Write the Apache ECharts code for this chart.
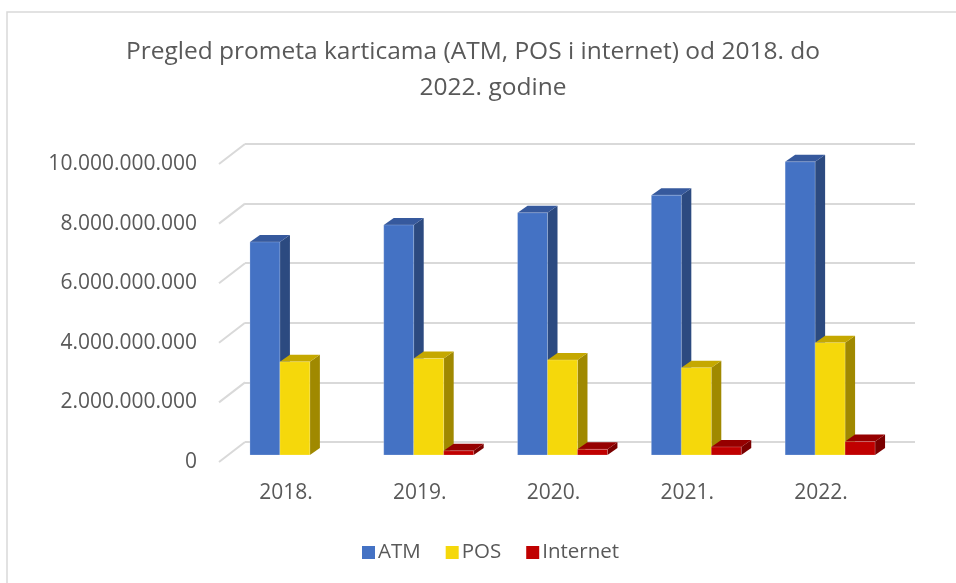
<!DOCTYPE html>
<html>
<head>
<meta charset="utf-8">
<script src="https://cdn.jsdelivr.net/npm/echarts@6/dist/echarts.min.js"></script>
<style>
  html, body { margin: 0; padding: 0; background: #fff; }
  #chart { width: 956px; height: 583px; }
</style>
</head>
<body>
<div id="chart"></div>
<script>
// podaci
var godine = ['2018.', '2019.', '2020.', '2021.', '2022.'];
var atm = [7150000000, 7720000000, 8130000000, 8720000000, 9840000000];
var pos = [3130000000, 3240000000, 3190000000, 2930000000, 3770000000];
var internet = [0, 140000000, 190000000, 270000000, 450000000];
var yTicks = [0, 2000000000, 4000000000, 6000000000, 8000000000, 10000000000];

(function () {

    var chart = echarts.init(document.getElementById('chart'));

    var font = '"Open Sans", "Noto Sans", sans-serif';
    var txt = '#595959';

    // boje: lice, vrh, bok
    var boje = [
        ['#4472C4', '#36599D', '#2C4A80'],
        ['#F5D80B', '#C5A800', '#A08900'],
        ['#C00000', '#960000', '#7A0000']
    ];

    function tocke(arr) {
        return arr.map(function (v, i) { return [i, v]; });
    }

    // 3D stupac: prednje lice + vrh + bok
    function stupac(idx) {
        return function (params, api) {
            var cat = api.value(0), val = api.value(1);
            if (!val) return;
            var band = api.size([1, 0])[0];
            var w = band * 0.224;
            var dx = 10, dy = -7;
            var base = api.coord([cat, 0]);
            var top = api.coord([cat, val]);
            var x0 = base[0] - 1.5 * w + idx * w;
            var x1 = x0 + w;
            var yb = base[1], yt = top[1];
            var c = boje[idx];
            return {
                type: 'group',
                children: [
                    { type: 'polygon', shape: { points: [[x1, yb], [x1 + dx, yb + dy], [x1 + dx, yt + dy], [x1, yt]] }, style: { fill: c[2] } },
                    { type: 'polygon', shape: { points: [[x0, yt], [x0 + dx, yt + dy], [x1 + dx, yt + dy], [x1, yt]] }, style: { fill: c[1] } },
                    { type: 'rect', shape: { x: x0, y: yt, width: w, height: yb - yt }, style: { fill: c[0], stroke: 'rgba(255,255,255,0.35)', lineWidth: 0.6 } }
                ]
            };
        };
    }

    // bocni zid: kose linije od prednjeg ruba do straznjeg zida
    function kosine(params, api) {
        var p = api.coord([0, api.value(1)]);
        var x = params.coordSys.x;
        return {
            type: 'line',
            shape: { x1: x, y1: p[1], x2: x + 26, y2: p[1] - 20 },
            style: { stroke: '#d9d9d9', lineWidth: 2 }
        };
    }

    var yBase = { type: 'value', min: 0, max: 10000000000, interval: 2000000000 };
    var titleStyle = { fontFamily: font, fontSize: 24.5, fontWeight: 'normal', color: txt };

    option = {
        backgroundColor: '#fff',
        animation: false,
        title: [
            { text: 'Pregled prometa karticama (ATM, POS i internet) od 2018. do', left: 468, top: 35, textAlign: 'center', textStyle: titleStyle },
            { text: '2022. godine', left: 488, top: 71, textAlign: 'center', textStyle: titleStyle }
        ],
        legend: {
            top: 537,
            left: 357,
            itemWidth: 13,
            itemHeight: 13,
            itemGap: 25,
            icon: 'rect',
            textStyle: { fontFamily: font, fontSize: 20.5, color: txt, padding: [0, 0, 0, -2] },
            data: ['ATM', 'POS', 'Internet']
        },
        graphic: [{
            type: 'rect',
            shape: { x: 7, y: 12, width: 1000, height: 600 },
            style: { fill: 'none', stroke: '#d9d9d9', lineWidth: 1.5 },
            silent: true
        }],
        grid: [
            { left: 245, top: 144, width: 670, height: 298 },   // straznji zid
            { left: 219, top: 164, width: 669, height: 298 },   // prednja ravnina (oznake)
            { left: 228, top: 157, width: 669, height: 298 }    // ravnina stupaca
        ],
        xAxis: [
            { gridIndex: 0, type: 'category', data: godine, show: false },
            {
                gridIndex: 1, type: 'category', data: godine,
                axisLine: { show: false }, axisTick: { show: false },
                axisLabel: { fontFamily: font, fontSize: 21, color: txt, margin: 21 }
            },
            { gridIndex: 2, type: 'category', data: godine, show: false }
        ],
        yAxis: [
            Object.assign({ gridIndex: 0, axisLabel: { show: false }, axisLine: { show: false }, axisTick: { show: false },
                splitLine: { lineStyle: { color: '#d9d9d9', width: 2 } } }, yBase),
            Object.assign({ gridIndex: 1, axisLine: { show: false }, axisTick: { show: false }, splitLine: { show: false },
                axisLabel: {
                    fontFamily: font, fontSize: 21, color: txt, margin: 22,
                    formatter: function (v) { return String(v).replace(/\B(?=(\d{3})+(?!\d))/g, '.'); }
                } }, yBase),
            Object.assign({ gridIndex: 2, show: false }, yBase)
        ],
        series: [
            { name: 'ATM', type: 'custom', xAxisIndex: 2, yAxisIndex: 2, renderItem: stupac(0), itemStyle: { color: boje[0][0] }, data: tocke(atm), z: 3 },
            { name: 'POS', type: 'custom', xAxisIndex: 2, yAxisIndex: 2, renderItem: stupac(1), itemStyle: { color: boje[1][0] }, data: tocke(pos), z: 4 },
            { name: 'Internet', type: 'custom', xAxisIndex: 2, yAxisIndex: 2, renderItem: stupac(2), itemStyle: { color: boje[2][0] }, data: tocke(internet), z: 5 },
            { name: 'zid', type: 'custom', xAxisIndex: 1, yAxisIndex: 1, renderItem: kosine, silent: true,
              data: yTicks.map(function (v) { return [0, v]; }), z: 1 }
        ]
    };

    chart.setOption(option);
})();
</script>
</body>
</html>
